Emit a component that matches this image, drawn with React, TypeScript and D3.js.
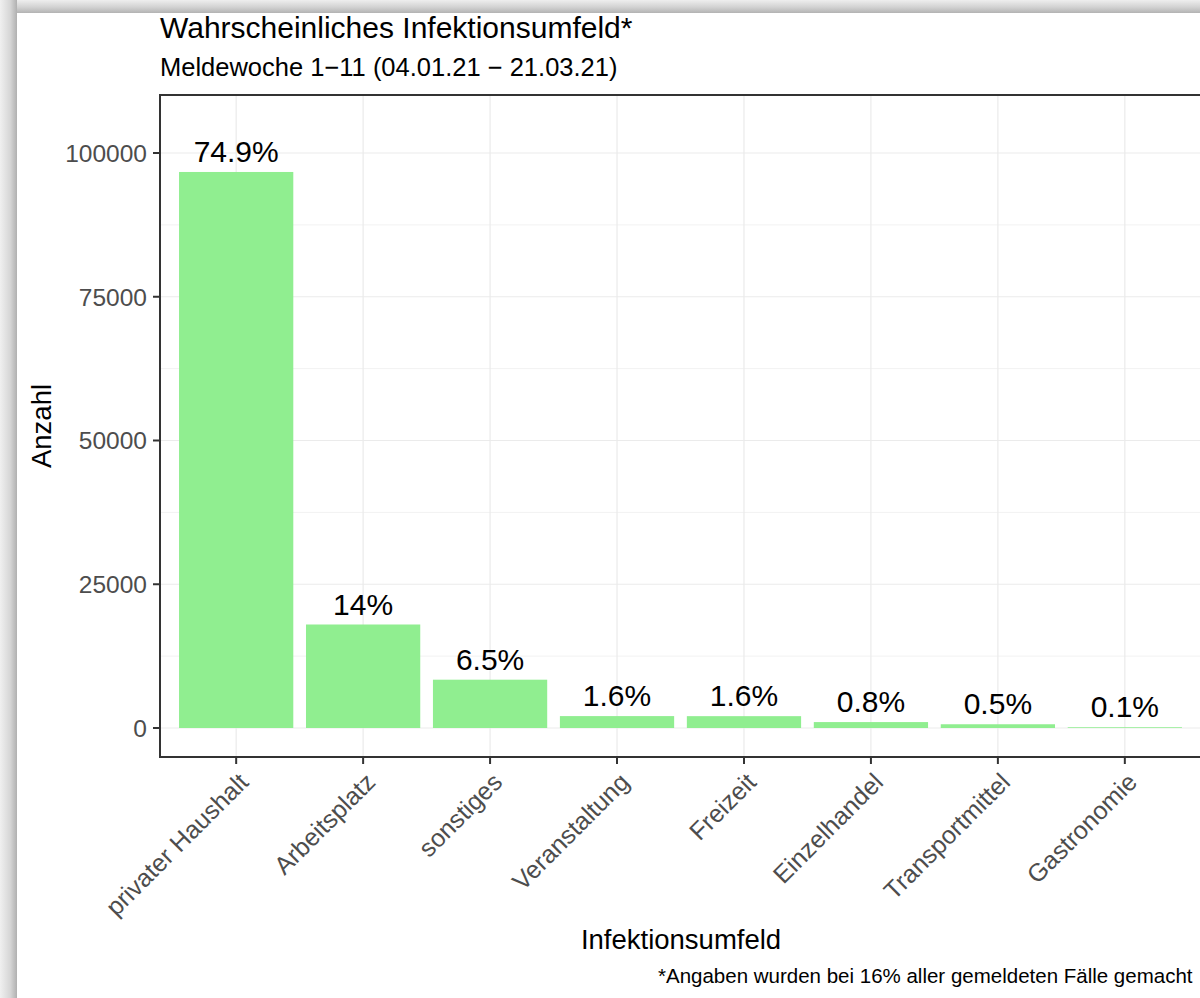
import React from 'react';
import * as d3 from 'd3';

const categories = [
  'privater Haushalt',
  'Arbeitsplatz',
  'sonstiges',
  'Veranstaltung',
  'Freizeit',
  'Einzelhandel',
  'Transportmittel',
  'Gastronomie',
];
const counts = [96700, 18000, 8400, 2070, 2060, 1030, 650, 130];
const percentLabels = ['74.9%', '14%', '6.5%', '1.6%', '1.6%', '0.8%', '0.5%', '0.1%'];
const yTicks = [0, 25000, 50000, 75000, 100000];
const yMinorTicks = [12500, 37500, 62500, 87500];

const W = 1200;
const H = 998;
const FONT = "'Liberation Sans', Arial, sans-serif";

const App = () => {
  // panel box
  const panel = { left: 160, right: 1201, top: 95, bottom: 757 };

  const xScale = d3.scaleBand<string>()
    .domain(categories)
    .range([panel.left, panel.right])
    .paddingInner(0)
    .paddingOuter(0.1);
  const step = xScale.step();
  const barW = step * 0.9;
  const cx = (c: string) => (xScale(c) as number) + xScale.bandwidth() / 2;

  const yScale = d3.scaleLinear()
    .domain([0, 100000])
    .range([728, 153]);

  return (
    <div style={{ position: 'fixed', left: 0, top: 0, width: W, height: H, background: '#fff' }}>
      <svg width={W} height={H} style={{ display: 'block', fontFamily: FONT }}>
        <defs>
          <linearGradient id="shTop" x1="0" y1="0" x2="0" y2="1">
            <stop offset="0" stopColor="#eeeeee" />
            <stop offset="0.55" stopColor="#d2d2d2" />
            <stop offset="1" stopColor="#b3b3b3" />
          </linearGradient>
          <linearGradient id="shLeft" x1="0" y1="0" x2="1" y2="0">
            <stop offset="0" stopColor="#f0f0f0" />
            <stop offset="0.6" stopColor="#d6d6d6" />
            <stop offset="1" stopColor="#b0b0b0" />
          </linearGradient>
        </defs>

        {/* screenshot shadow frame */}
        <rect x={0} y={0} width={W} height={H} fill="#fff" />
        <rect x={0} y={0} width={W} height={13} fill="url(#shTop)" />
        <rect x={0} y={0} width={17} height={H} fill="url(#shLeft)" />

        {/* titles */}
        <text x={160} y={38} fontSize={30} fill="#000">Wahrscheinliches Infektionsumfeld*</text>
        <text x={160} y={76} fontSize={25.5} fill="#000">Meldewoche 1−11 (04.01.21 − 21.03.21)</text>

        {/* grid */}
        <g>
          {yMinorTicks.map(t => (
            <line key={'m' + t} x1={panel.left} x2={panel.right} y1={yScale(t)} y2={yScale(t)}
              stroke="#f2f2f2" strokeWidth={1} />
          ))}
          {yTicks.map(t => (
            <line key={'g' + t} x1={panel.left} x2={panel.right} y1={yScale(t)} y2={yScale(t)}
              stroke="#ebebeb" strokeWidth={1.2} />
          ))}
          {categories.map(c => (
            <line key={'v' + c} x1={cx(c)} x2={cx(c)} y1={panel.top} y2={panel.bottom}
              stroke="#ebebeb" strokeWidth={1.2} />
          ))}
        </g>

        {/* bars */}
        {categories.map((c, i) => (
          <rect key={c} x={cx(c) - barW / 2} y={yScale(counts[i])} width={barW}
            height={yScale(0) - yScale(counts[i])} fill="#90EE90" />
        ))}

        {/* value labels */}
        {categories.map((c, i) => (
          <text key={'l' + c} x={cx(c)} y={yScale(counts[i]) - 10} textAnchor="middle"
            fontSize={30} fill="#000">{percentLabels[i]}</text>
        ))}

        {/* panel border */}
        <rect x={panel.left} y={panel.top} width={panel.right - panel.left} height={panel.bottom - panel.top}
          fill="none" stroke="#333333" strokeWidth={2} />

        {/* y axis */}
        {yTicks.map(t => (
          <g key={'yt' + t}>
            <line x1={153} x2={panel.left} y1={yScale(t)} y2={yScale(t)} stroke="#333333" strokeWidth={2} />
            <text x={147} y={yScale(t)} dy="0.36em" textAnchor="end" fontSize={24.5} fill="#4d4d4d">{t}</text>
          </g>
        ))}

        {/* x axis */}
        {categories.map(c => (
          <g key={'xt' + c}>
            <line x1={cx(c)} x2={cx(c)} y1={panel.bottom} y2={764} stroke="#333333" strokeWidth={2} />
            <text transform={`translate(${cx(c) + 1},${771}) rotate(-45)`} textAnchor="end" dy="0.72em"
              fontSize={25} fill="#4d4d4d">{c}</text>
          </g>
        ))}

        {/* axis titles */}
        <text x={681} y={949} textAnchor="middle" fontSize={27.5} fill="#000">Infektionsumfeld</text>
        <text transform={`translate(51,${(panel.top + panel.bottom) / 2}) rotate(-90)`} textAnchor="middle"
          fontSize={27.5} fill="#000">Anzahl</text>

        {/* caption */}
        <text x={658} y={983} fontSize={20.5} fill="#000">*Angaben wurden bei 16% aller gemeldeten Fälle gemacht</text>
      </svg>
    </div>
  );
};

export default App;
